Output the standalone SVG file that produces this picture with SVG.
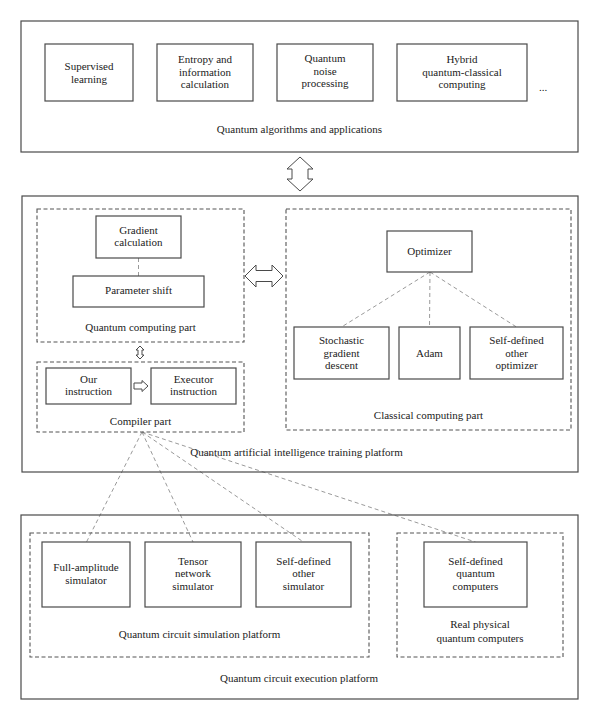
<svg xmlns="http://www.w3.org/2000/svg" width="600" height="721" viewBox="0 0 600 721">
<style>
.box{fill:#fff;stroke:#4a4a4a;stroke-width:1.2}
.frame{fill:none;stroke:#4a4a4a;stroke-width:1.2}
.dash{fill:none;stroke:#555;stroke-width:1.1;stroke-dasharray:4 2.5}
.conn{fill:none;stroke:#9a9a9a;stroke-width:1;stroke-dasharray:4 3}
.arrow{fill:#fff;stroke:#4a4a4a;stroke-width:1}
text{font-family:"Liberation Serif","Times New Roman",serif;font-size:11px;fill:#222;text-anchor:middle}
</style>
<rect width="600" height="721" fill="#fff"/>
<g id="connectors">
<line class="conn" x1="138.5" y1="258" x2="138.5" y2="276"/>
<line class="conn" x1="430" y1="272" x2="341.5" y2="327"/>
<line class="conn" x1="430" y1="272" x2="429.5" y2="327"/>
<line class="conn" x1="430" y1="272" x2="516.5" y2="327"/>
<line class="conn" x1="142" y1="432" x2="86.5" y2="542"/>
<line class="conn" x1="142" y1="432" x2="193" y2="542"/>
<line class="conn" x1="142" y1="432" x2="303.5" y2="542"/>
<line class="conn" x1="142" y1="432" x2="475.5" y2="542"/>
<polygon class="arrow" points="300,157 313,169 308,169 308,179 313,179 300,191 287,179 292,179 292,169 287,169"/>
<polygon class="arrow" points="245,276 256,265 256,270.5 272,270.5 272,265 283,276 272,287 272,281.5 256,281.5 256,287"/>
<polygon class="arrow" points="140,346 144,350 142,350 142,355 144,355 140,359 136,355 138,355 138,350 136,350"/>
<polygon class="arrow" points="134,383 142,383 142,380.5 148,386 142,391.5 142,389 134,389"/>
</g>
<g id="apps">
<rect class="frame" x="21" y="21" width="557" height="131"/>
<text x="299.5" y="133">Quantum algorithms and applications</text>
</g>
<g id="supervised"><rect class="box" x="45" y="44" width="88" height="57"/><text x="89" y="70">Supervised</text><text x="89" y="83">learning</text></g>
<g id="entropy"><rect class="box" x="157" y="44" width="96" height="57"/><text x="205" y="63">Entropy and</text><text x="205" y="76">information</text><text x="205" y="88">calculation</text></g>
<g id="noise"><rect class="box" x="277" y="44" width="96" height="57"/><text x="325" y="62">Quantum</text><text x="325" y="75">noise</text><text x="325" y="87">processing</text></g>
<g id="hybrid"><rect class="box" x="397" y="44" width="130" height="57"/><text x="462" y="63">Hybrid</text><text x="462" y="76">quantum-classical</text><text x="462" y="88">computing</text></g>
<g id="more"><text x="543" y="91">...</text></g>
<g id="training">
<rect class="frame" x="22" y="196" width="556" height="276"/>
<text x="296.5" y="456">Quantum artificial intelligence training platform</text>
</g>
<g id="qc-part"><rect class="dash" x="37" y="209" width="207" height="133"/><text x="140.5" y="331">Quantum computing part</text></g>
<g id="gradient"><rect class="box" x="96" y="216" width="85" height="42"/><text x="138.5" y="234">Gradient</text><text x="138.5" y="246">calculation</text></g>
<g id="param-shift"><rect class="box" x="73" y="276" width="131" height="31"/><text x="138.5" y="294">Parameter shift</text></g>
<g id="compiler"><rect class="dash" x="37" y="362" width="207" height="70"/><text x="140.5" y="425">Compiler part</text></g>
<g id="our-instr"><rect class="box" x="46" y="368" width="85" height="36"/><text x="88.5" y="383">Our</text><text x="88.5" y="395">instruction</text></g>
<g id="exec-instr"><rect class="box" x="151" y="368" width="85" height="36"/><text x="193.5" y="383">Executor</text><text x="193.5" y="395">instruction</text></g>
<g id="classical"><rect class="dash" x="286" y="209" width="285" height="221"/><text x="428.5" y="419">Classical computing part</text></g>
<g id="optimizer"><rect class="box" x="387" y="231" width="85" height="41"/><text x="429.5" y="255">Optimizer</text></g>
<g id="sgd"><rect class="box" x="294" y="327" width="95" height="52"/><text x="341.5" y="344">Stochastic</text><text x="341.5" y="357">gradient</text><text x="341.5" y="369">descent</text></g>
<g id="adam"><rect class="box" x="399" y="327" width="61" height="52"/><text x="429.5" y="357">Adam</text></g>
<g id="other-opt"><rect class="box" x="470" y="327" width="93" height="52"/><text x="516.5" y="344">Self-defined</text><text x="516.5" y="357">other</text><text x="516.5" y="369">optimizer</text></g>
<g id="execution">
<rect class="frame" x="21" y="515" width="557" height="184"/>
<text x="299" y="682">Quantum circuit execution platform</text>
</g>
<g id="sim-platform"><rect class="dash" x="30" y="533" width="339" height="124"/><text x="199.5" y="638">Quantum circuit simulation platform</text></g>
<g id="real-qc"><rect class="dash" x="397" y="533" width="166" height="124"/><text x="480" y="628">Real physical</text><text x="480" y="642">quantum computers</text></g>
<g id="full-amp"><rect class="box" x="42" y="542" width="88" height="65"/><text x="86" y="571">Full-amplitude</text><text x="86" y="584">simulator</text></g>
<g id="tensor"><rect class="box" x="145" y="542" width="96" height="65"/><text x="193" y="565">Tensor</text><text x="193" y="577">network</text><text x="193" y="590">simulator</text></g>
<g id="other-sim"><rect class="box" x="256" y="542" width="95" height="65"/><text x="303.5" y="565">Self-defined</text><text x="303.5" y="577">other</text><text x="303.5" y="590">simulator</text></g>
<g id="self-qc"><rect class="box" x="424" y="542" width="103" height="65"/><text x="475.5" y="565">Self-defined</text><text x="475.5" y="577">quantum</text><text x="475.5" y="590">computers</text></g>
</svg>
